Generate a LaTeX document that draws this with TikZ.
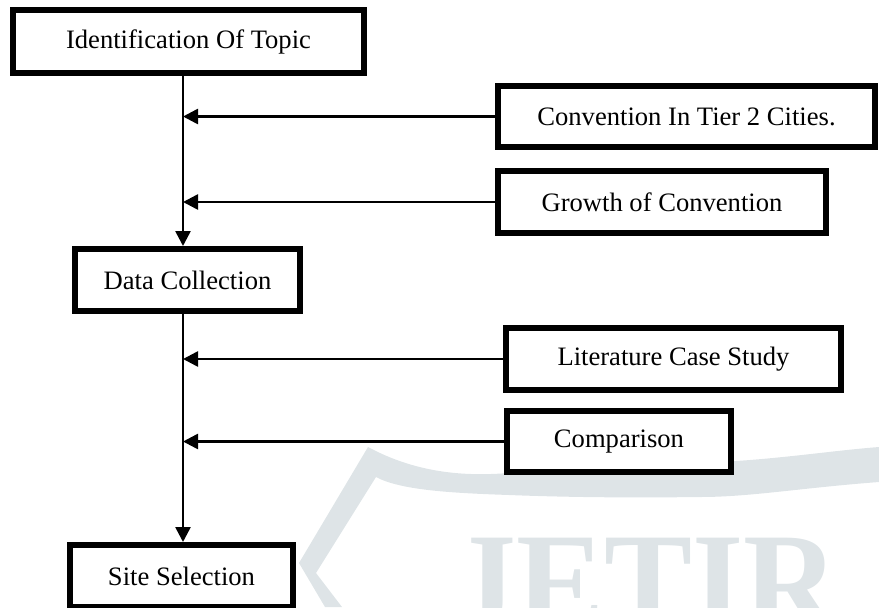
\documentclass[tikz,border=0pt]{standalone}
\usepackage{fontspec}
\setmainfont{Liberation Serif}
\usetikzlibrary{arrows.meta}
\definecolor{wm}{RGB}{222,228,231}
\begin{document}
\begin{tikzpicture}[x=0.5pt,y=-0.5pt,
  box/.style={draw=black, line width=3pt, fill=white, inner sep=0pt,
    font=\fontsize{13.3pt}{16pt}\selectfont},
  conn/.style={line width=1.3pt, -{Triangle[length=7.5pt,width=7.5pt]}}]
\useasboundingbox (0,0) rectangle (879,607);
\clip (0,0) rectangle (879,607);
% watermark
\fill[wm] (368,447) .. controls (420,475) and (470,476) .. (509,473)
  .. controls (600,466) and (700,464) .. (750,460)
  .. controls (800,456) and (840,450) .. (879,447) -- (879,482)
  .. controls (800,488) and (750,497) .. (700,497)
  .. controls (620,498) and (560,497) .. (509,495)
  .. controls (450,493) and (400,490) .. (376,477)
  -- (316,573) -- (342,607) -- (325,607) -- (299,563) -- cycle;
\node[text=wm, anchor=base west, inner sep=0pt, yscale=1.08,
  font=\bfseries\fontsize{66pt}{66pt}\selectfont] (wmtext) at (450,631) {JETIR};
% boxes
\node[box, minimum width=175.5pt, minimum height=31.5pt] (id) at (188.5,41.5) {Identification Of Topic};
\node[box, minimum width=188.5pt, minimum height=30.5pt] (conv) at (686.5,116.5) {Convention In Tier 2 Cities.};
\node[box, minimum width=164pt, minimum height=31pt] (grow) at (662,202) {Growth of Convention};
\node[box, minimum width=112.5pt, minimum height=31pt] (dc) at (187.5,280) {Data Collection};
\node[box, minimum width=167.5pt, minimum height=31pt] (lit) at (673.5,359) {Literature Case Study};
\node[box, minimum width=112pt, minimum height=30.5pt] (comp) at (619,441.5) {Comparison};
\node[box, minimum width=111.5pt, minimum height=31pt] (site) at (181.5,576) {Site Selection};
% spine
\coordinate (sp) at (183,0);
\draw[conn] (id.south -| sp) -- (dc.north -| sp);
\draw[conn] (dc.south -| sp) -- (site.north -| sp);
\draw[conn] (conv.west) -- (conv.west -| sp);
\draw[conn] (grow.west) -- (grow.west -| sp);
\draw[conn] (lit.west) -- (lit.west -| sp);
\draw[conn] (comp.west) -- (comp.west -| sp);
\end{tikzpicture}
\end{document}
